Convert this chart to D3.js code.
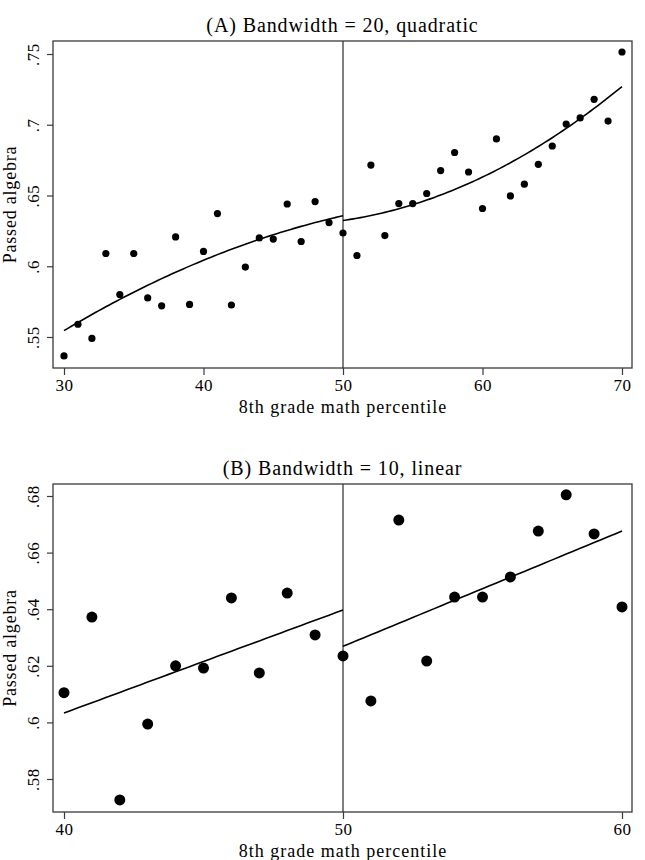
<!DOCTYPE html>
<meta charset="utf-8">
<script src="https://d3js.org/d3.v7.min.js"></script>
<style>
  html, body { margin: 0; padding: 0; background: #fff; }
  text { font-family: 'Liberation Serif', 'DejaVu Serif', serif; fill: #000; }
</style>
<body>
<div id="chart"></div>
<script>

// panel A: bandwidth 20
var pctA = [30, 31, 32, 33, 34, 35, 36, 37, 38, 39, 40, 41, 42, 43, 44, 45, 46, 47, 48, 49,
            50, 51, 52, 53, 54, 55, 56, 57, 58, 59, 60, 61, 62, 63, 64, 65, 66, 67, 68, 69, 70]
var passA = [.5366, .559, .549, .609, .580, .609, .5776, .572, .6207, .573,
             .6105, .6372, .5726, .5994, .620, .6192, .644, .6175, .6457, .6309,
             .6235, .6076, .6715, .6217, .6443, .6443, .6514, .6676, .6804, .6666,
             .6408, .690, .6497, .658, .672, .685, .7005, .7048, .718, .7026, .7514]

// panel B: bandwidth 10
var pctB = [40, 41, 42, 43, 44, 45, 46, 47, 48, 49, 50, 51, 52, 53, 54, 55, 56, 57, 58, 59, 60]
var passB = [.6105, .6372, .5726, .5994, .620, .6192, .644, .6175, .6457, .6309,
             .6235, .6076, .6715, .6217, .6443, .6443, .6514, .6676, .6804, .6666, .6408]

var xTicksA = [30, 40, 50, 60, 70]
var yTicksA = [.55, .6, .65, .7, .75]
var xTicksB = [40, 50, 60]
var yTicksB = [.58, .6, .62, .64, .66, .68]

var cutoff = 50

var width = 645,
    height = 860

var svg = d3.select("#chart").append("svg")
    .attr("width", width)
    .attr("height", height)

svg.append("rect").attr("width", width).attr("height", height).attr("fill", "#fff")

// least squares polynomial fit (normal equations)
function polyfit(xs, ys, deg) {
  var n = deg + 1
  var A = [], b = []
  for (var i = 0; i < n; i++) {
    A.push([])
    for (var j = 0; j < n; j++) A[i].push(d3.sum(xs, function(x) { return Math.pow(x, i + j) }))
    b.push(d3.sum(xs, function(x, k) { return ys[k] * Math.pow(x, i) }))
  }
  // gaussian elimination
  for (var c = 0; c < n; c++) {
    for (var r = c + 1; r < n; r++) {
      var f = A[r][c] / A[c][c]
      for (var k = c; k < n; k++) A[r][k] -= f * A[c][k]
      b[r] -= f * b[c]
    }
  }
  var coef = new Array(n)
  for (var r = n - 1; r >= 0; r--) {
    var s = b[r]
    for (var k = r + 1; k < n; k++) s -= A[r][k] * coef[k]
    coef[r] = s / A[r][r]
  }
  return function(x) {
    return d3.sum(coef, function(c, i) { return c * Math.pow(x, i) })
  }
}

function fmt(v) {
  return String(v).replace(/^0/, "")
}

function panel(cfg) {
  var g = svg.append("g")

  var x = d3.scaleLinear().domain(cfg.xDomain).range([64, 622])
  var y = d3.scaleLinear().domain([cfg.yTicks[0], cfg.yTicks[cfg.yTicks.length - 1]])
    .range([cfg.yBottom, cfg.yTop])

  var left = 53, right = 632

  // title
  g.append("text")
    .attr("x", (left + right) / 2)
    .attr("y", cfg.top - 9)
    .attr("text-anchor", "middle")
    .style("font-size", "20px")
    .style("letter-spacing", "0.9px")
    .text(cfg.title)

  // frame
  g.append("rect")
    .attr("x", left).attr("y", cfg.top)
    .attr("width", right - left).attr("height", cfg.bottom - cfg.top)
    .attr("fill", "none")
    .attr("stroke", "#3a3a3a")
    .attr("stroke-width", 1.3)

  // x axis
  var xAxis = g.append("g")
    .attr("transform", "translate(0," + cfg.bottom + ")")
    .call(d3.axisBottom(x).tickValues(cfg.xTicks).tickSize(7).tickPadding(4))
  xAxis.select(".domain").remove()
  xAxis.selectAll("line").attr("stroke", "#3a3a3a").attr("stroke-width", 1.2)
  xAxis.selectAll("text")
    .style("font-size", "17px")
    .style("letter-spacing", "0.5px")
    .style("font-family", "'Liberation Serif', serif")

  g.append("text")
    .attr("x", 343)
    .attr("y", cfg.bottom + 45)
    .attr("text-anchor", "middle")
    .style("font-size", "18px")
    .style("letter-spacing", "1px")
    .text("8th grade math percentile")

  // y axis, labels rotated like stata
  var yAxis = g.append("g")
    .attr("transform", "translate(" + left + ",0)")
    .call(d3.axisLeft(y).tickValues(cfg.yTicks).tickSize(6).tickFormat(fmt))
  yAxis.select(".domain").remove()
  yAxis.selectAll("line").attr("stroke", "#3a3a3a").attr("stroke-width", 1.2)
  yAxis.selectAll("text")
    .attr("x", null).attr("dy", null)
    .attr("text-anchor", "middle")
    .attr("transform", "translate(-14,0) rotate(-90)")
    .style("font-size", "17px")
    .style("letter-spacing", "0.5px")
    .style("font-family", "'Liberation Serif', serif")

  g.append("text")
    .attr("transform", "translate(16," + ((cfg.top + cfg.bottom) / 2) + ") rotate(-90)")
    .attr("text-anchor", "middle")
    .style("font-size", "18px")
    .style("letter-spacing", "0.8px")
    .text("Passed algebra")

  // cutoff line
  g.append("line")
    .attr("x1", x(cutoff)).attr("x2", x(cutoff))
    .attr("y1", cfg.top).attr("y2", cfg.bottom)
    .attr("stroke", "#3a3a3a")
    .attr("stroke-width", 1.3)

  // points
  g.selectAll("circle")
    .data(cfg.xs)
    .enter().append("circle")
    .attr("cx", function(d) { return x(d) })
    .attr("cy", function(d, i) { return y(cfg.ys[i]) })
    .attr("r", cfg.r)
    .attr("fill", "#000")

  // fits on either side of the cutoff
  var sides = [
    cfg.xs.map(function(d, i) { return i }).filter(function(i) { return cfg.xs[i] < cutoff }),
    cfg.xs.map(function(d, i) { return i }).filter(function(i) { return cfg.xs[i] >= cutoff })
  ]
  var line = d3.line().x(function(d) { return x(d[0]) }).y(function(d) { return y(d[1]) })
  sides.forEach(function(idx, s) {
    var xs = idx.map(function(i) { return cfg.xs[i] })
    var ys = idx.map(function(i) { return cfg.ys[i] })
    var f = polyfit(xs, ys, cfg.deg)
    var lo = s === 0 ? cfg.xDomain[0] : cutoff
    var hi = s === 0 ? cutoff : cfg.xDomain[1]
    var pts = d3.range(lo, hi + 0.001, 0.25).map(function(v) { return [v, f(v)] })
    g.append("path")
      .attr("d", line(pts))
      .attr("fill", "none")
      .attr("stroke", "#000")
      .attr("stroke-width", 1.6)
  })
}

panel({
  title: "(A) Bandwidth = 20, quadratic",
  xs: pctA, ys: passA,
  xDomain: [30, 70], xTicks: xTicksA, yTicks: yTicksA,
  yBottom: 337, yTop: 54,
  top: 41, bottom: 368,
  r: 3.6, deg: 2
})

panel({
  title: "(B) Bandwidth = 10, linear",
  xs: pctB, ys: passB,
  xDomain: [40, 60], xTicks: xTicksB, yTicks: yTicksB,
  yBottom: 779, yTop: 496,
  top: 484, bottom: 812,
  r: 5.5, deg: 1
})

</script>
</body>
